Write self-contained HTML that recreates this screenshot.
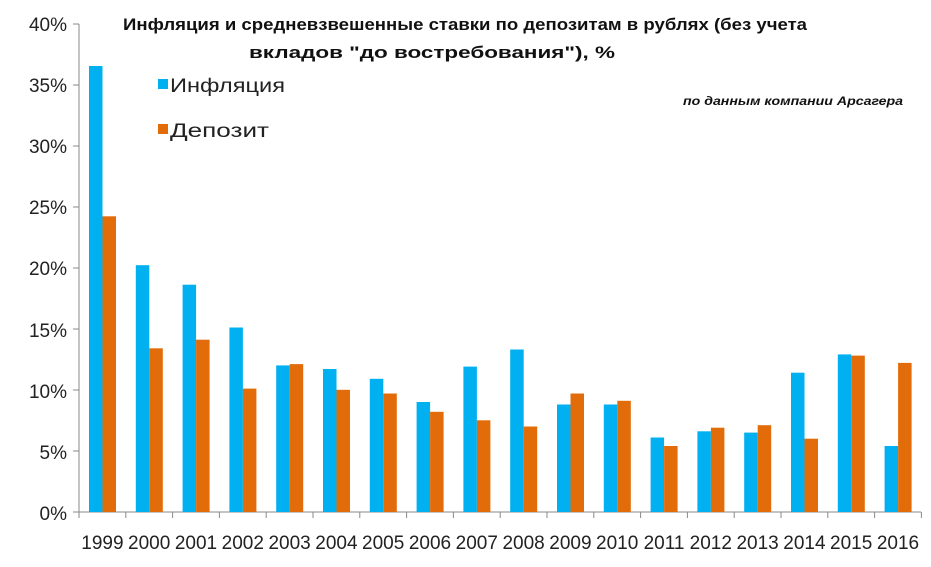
<!DOCTYPE html>
<html><head><meta charset="utf-8"><style>
html,body{margin:0;padding:0;background:#fff;}
svg{display:block;font-family:"Liberation Sans","DejaVu Sans",sans-serif;}
</style></head><body>
<svg width="931" height="567" viewBox="0 0 931 567" xmlns="http://www.w3.org/2000/svg">
<rect width="931" height="567" fill="#fff"/>
<g fill="#222" font-size="19" text-anchor="end">
<text x="67" y="31">40%</text><text x="67" y="92">35%</text><text x="67" y="153">30%</text>
<text x="67" y="214">25%</text><text x="67" y="275">20%</text><text x="67" y="337">15%</text>
<text x="67" y="398">10%</text><text x="67" y="459">5%</text><text x="67" y="520">0%</text>
</g>
<g stroke="#888" stroke-width="1">
<line x1="79" y1="24" x2="79" y2="518"/>
<line x1="73" y1="512" x2="921" y2="512"/>
<line x1="73" y1="24" x2="79" y2="24"/><line x1="73" y1="85" x2="79" y2="85"/><line x1="73" y1="146" x2="79" y2="146"/>
<line x1="73" y1="207" x2="79" y2="207"/><line x1="73" y1="268" x2="79" y2="268"/><line x1="73" y1="329" x2="79" y2="329"/>
<line x1="73" y1="390" x2="79" y2="390"/><line x1="73" y1="451" x2="79" y2="451"/>
<line x1="125.8" y1="512" x2="125.8" y2="518"/><line x1="172.6" y1="512" x2="172.6" y2="518"/><line x1="219.4" y1="512" x2="219.4" y2="518"/>
<line x1="266.2" y1="512" x2="266.2" y2="518"/><line x1="313" y1="512" x2="313" y2="518"/><line x1="359.8" y1="512" x2="359.8" y2="518"/>
<line x1="406.6" y1="512" x2="406.6" y2="518"/><line x1="453.4" y1="512" x2="453.4" y2="518"/><line x1="500.2" y1="512" x2="500.2" y2="518"/>
<line x1="547" y1="512" x2="547" y2="518"/><line x1="593.8" y1="512" x2="593.8" y2="518"/><line x1="640.6" y1="512" x2="640.6" y2="518"/>
<line x1="687.4" y1="512" x2="687.4" y2="518"/><line x1="734.2" y1="512" x2="734.2" y2="518"/><line x1="781" y1="512" x2="781" y2="518"/>
<line x1="827.8" y1="512" x2="827.8" y2="518"/><line x1="874.6" y1="512" x2="874.6" y2="518"/><line x1="921.4" y1="512" x2="921.4" y2="518"/>
</g>
<g fill="#00B0F0">
<rect x="89" y="66" width="13.5" height="446"/>
<rect x="135.8" y="265.2" width="13.5" height="246.8"/>
<rect x="182.6" y="284.7" width="13.5" height="227.3"/>
<rect x="229.4" y="327.5" width="13.5" height="184.5"/>
<rect x="276.2" y="365.4" width="13.5" height="146.6"/>
<rect x="323" y="369" width="13.5" height="143"/>
<rect x="369.8" y="378.8" width="13.5" height="133.2"/>
<rect x="416.6" y="402" width="13.5" height="110"/>
<rect x="463.4" y="366.6" width="13.5" height="145.4"/>
<rect x="510.2" y="349.5" width="13.5" height="162.5"/>
<rect x="557" y="404.5" width="13.5" height="107.5"/>
<rect x="603.8" y="404.5" width="13.5" height="107.5"/>
<rect x="650.6" y="437.5" width="13.5" height="74.5"/>
<rect x="697.4" y="431.3" width="13.5" height="80.7"/>
<rect x="744.2" y="432.6" width="13.5" height="79.4"/>
<rect x="791" y="372.7" width="13.5" height="139.3"/>
<rect x="837.8" y="354.4" width="13.5" height="157.6"/>
<rect x="884.6" y="446" width="13.5" height="66"/>
</g>
<g fill="#E36C0A">
<rect x="102.5" y="216.3" width="13.5" height="295.7"/>
<rect x="149.3" y="348.3" width="13.5" height="163.7"/>
<rect x="196.1" y="339.7" width="13.5" height="172.3"/>
<rect x="242.9" y="388.6" width="13.5" height="123.4"/>
<rect x="289.7" y="364.1" width="13.5" height="147.9"/>
<rect x="336.5" y="389.8" width="13.5" height="122.2"/>
<rect x="383.3" y="393.5" width="13.5" height="118.5"/>
<rect x="430.1" y="411.8" width="13.5" height="100.2"/>
<rect x="476.9" y="420.3" width="13.5" height="91.7"/>
<rect x="523.7" y="426.5" width="13.5" height="85.5"/>
<rect x="570.5" y="393.5" width="13.5" height="118.5"/>
<rect x="617.3" y="400.8" width="13.5" height="111.2"/>
<rect x="664.1" y="446" width="13.5" height="66"/>
<rect x="710.9" y="427.7" width="13.5" height="84.3"/>
<rect x="757.7" y="425.2" width="13.5" height="86.8"/>
<rect x="804.5" y="438.7" width="13.5" height="73.3"/>
<rect x="851.3" y="355.6" width="13.5" height="156.4"/>
<rect x="898.1" y="362.9" width="13.5" height="149.1"/>
</g>
<g fill="#222" font-size="19" text-anchor="middle">
<text x="102.4" y="549">1999</text><text x="149.2" y="549">2000</text><text x="196" y="549">2001</text>
<text x="242.8" y="549">2002</text><text x="289.6" y="549">2003</text><text x="336.4" y="549">2004</text>
<text x="383.2" y="549">2005</text><text x="430" y="549">2006</text><text x="476.8" y="549">2007</text>
<text x="523.6" y="549">2008</text><text x="570.4" y="549">2009</text><text x="617.2" y="549">2010</text>
<text x="664" y="549">2011</text><text x="710.8" y="549">2012</text><text x="757.6" y="549">2013</text>
<text x="804.4" y="549">2014</text><text x="851.2" y="549">2015</text><text x="898" y="549">2016</text>
</g>
<g font-weight="bold" font-size="17" fill="#111">
<text x="123" y="30" textLength="684" lengthAdjust="spacingAndGlyphs">Инфляция и средневзвешенные  ставки по депозитам в рублях (без учета</text>
<text x="249" y="58" textLength="366" lengthAdjust="spacingAndGlyphs">вкладов "до востребования"),  %</text>
</g>
<rect x="158" y="79" width="10" height="10" fill="#00B0F0"/>
<text x="170" y="92" font-size="19" fill="#222" textLength="115" lengthAdjust="spacingAndGlyphs">Инфляция</text>
<rect x="158" y="124" width="10" height="10" fill="#E36C0A"/>
<text x="170" y="137" font-size="19" fill="#222" textLength="99" lengthAdjust="spacingAndGlyphs">Депозит</text>
<text x="683" y="105" font-size="12" font-weight="bold" font-style="italic" fill="#111" textLength="220" lengthAdjust="spacingAndGlyphs">по данным компании Арсагера</text>
</svg>
</body></html>
